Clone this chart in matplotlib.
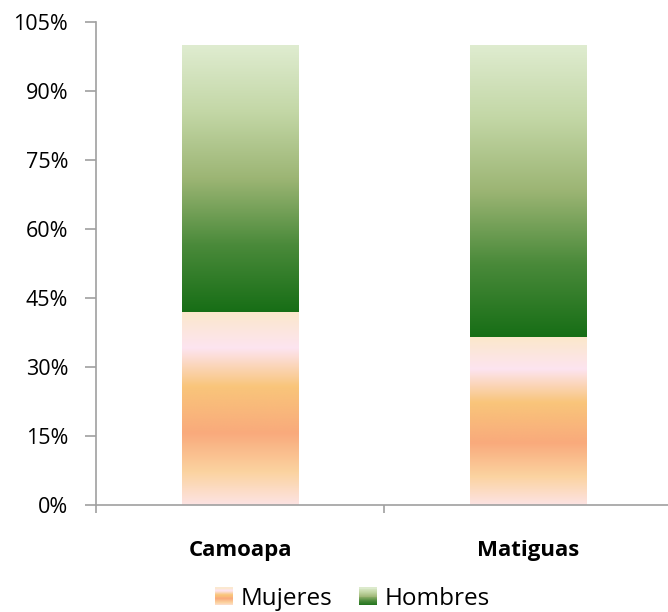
import numpy as np
import matplotlib
matplotlib.use("Agg")
import matplotlib.pyplot as plt
from matplotlib.colors import LinearSegmentedColormap
from matplotlib.patches import Rectangle
from matplotlib.legend_handler import HandlerBase

categories = ["Camoapa", "Matiguas"]
mujeres = [42.0, 36.5]
hombres = [58.0, 63.5]
yticks = [0, 15, 30, 45, 60, 75, 90, 105]

plt.rcParams['font.family'] = ['Open Sans', 'DejaVu Sans']

cmap_m = LinearSegmentedColormap.from_list("m", [
    (0.0, "#fde3e3"), (0.17, "#fbd3a0"), (0.37, "#f9aa7c"),
    (0.61, "#f9c57a"), (0.81, "#fde4f0"), (1.0, "#fbe8cb")])
cmap_h = LinearSegmentedColormap.from_list("h", [
    (0.0, "#176e16"), (0.25, "#4a8a3a"), (0.5, "#9cb574"),
    (0.75, "#c3d7a6"), (1.0, "#dfecd0")])

fig = plt.figure(figsize=(6.68, 6.12), dpi=100)
ax = fig.add_axes([96/668, 107/612, 576/668, 483/612])

x = np.arange(len(categories))
w = 0.406
b1 = ax.bar(x, mujeres, w, color='none', edgecolor='none', label='Mujeres')
b2 = ax.bar(x, hombres, w, bottom=mujeres, color='none', edgecolor='none', label='Hombres')

grad = np.linspace(0, 1, 256).reshape(-1, 1)
for bars, cm in ((b1, cmap_m), (b2, cmap_h)):
    for p in bars:
        x0, y0 = p.get_x(), p.get_y()
        x1, y1 = x0 + p.get_width(), y0 + p.get_height()
        im = ax.imshow(grad, cmap=cm, extent=[x0, x1, y0, y1], origin='lower',
                       aspect='auto', interpolation='bicubic', zorder=2)
        im.set_clip_path(p)

ax.set_xlim(-0.5, 1.5)
ax.set_ylim(0, 105)
ax.set_yticks(yticks)
ax.set_yticklabels([f"{v}%" for v in yticks], fontsize=15.5)
ax.set_xticks(x)
ax.set_xticklabels(categories, fontsize=16, fontweight='bold')
ax.set_xticks([-0.5, 0.5, 1.5], minor=True)
ax.tick_params(axis='x', which='major', length=0, pad=25)
ax.tick_params(axis='x', which='minor', length=6, color='#a0a0a0', width=1.2)
ax.tick_params(axis='y', length=8, color='#a0a0a0', width=1.2, pad=12)
for s in ('top', 'right'):
    ax.spines[s].set_visible(False)
for s in ('left', 'bottom'):
    ax.spines[s].set_color('#a0a0a0')
    ax.spines[s].set_linewidth(1.2)


class GradHandler(HandlerBase):
    def __init__(self, cm):
        super().__init__()
        self.cm = cm

    def create_artists(self, legend, orig_handle, xdescent, ydescent, width,
                       height, fontsize, trans):
        n = 20
        arts = []
        for i in range(n):
            r = Rectangle((-xdescent, -ydescent + height * i / n), width, height / n + 0.3,
                          facecolor=self.cm((i + 0.5) / n), edgecolor='none', transform=trans)
            arts.append(r)
        return arts


h1 = Rectangle((0, 0), 1, 1)
h2 = Rectangle((0, 0), 1, 1)
leg = fig.legend([h1, h2], ['Mujeres', 'Hombres'], loc='center', bbox_to_anchor=(352/668, 1 - 599/612),
                 ncol=2, frameon=False, fontsize=17.5, handlelength=0.75, handleheight=0.75,
                 handletextpad=0.3, columnspacing=1.1,
                 handler_map={h1: GradHandler(cmap_m), h2: GradHandler(cmap_h)})

fig.savefig("out.png", dpi=100)
